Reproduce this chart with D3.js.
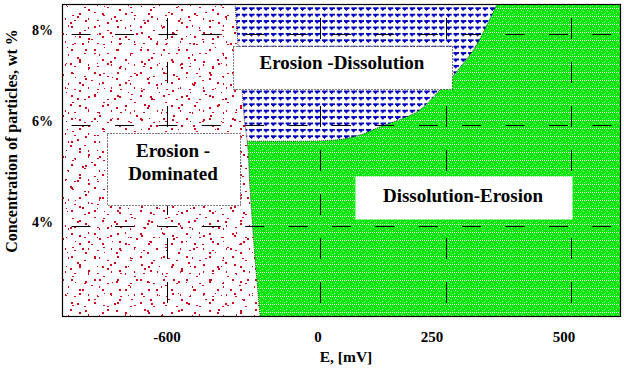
<!DOCTYPE html>
<html><head><meta charset="utf-8">
<script src="https://cdn.jsdelivr.net/npm/d3@7"></script>
<style>
body{margin:0;background:#fff}
svg{display:block}
text{font-family:"Liberation Serif","Times New Roman",serif;font-weight:bold;fill:#000}
</style>
</head><body>
<svg id="c" width="624" height="370"></svg>
<script>
// ---------- data ----------
const xTicks = [-600, 0, 250, 500];
const xTickLabels = ["-600", "0", "250", "500"];
const yTicks = [4, 6, 8];
const yTickLabels = ["4%", "6%", "8%"];
const xDomain = [-1010, -600, 0, 250, 500, 600];
const yDomain = [2.2, 4, 6, 8, 8.65];
// boundary of Erosion-Dominated zone (E, mV ; concentration, wt%)
const erosionBoundaryE = [-235, -259, -267, -275, -286, -294, -306, -322, -333];
const erosionBoundaryC = [2.2, 3.62, 4.18, 4.77, 5.70, 6.0, 6.77, 7.80, 8.65];
// lower boundary of Erosion-Dissolution zone
const dissolutionBoundaryE = [-1010, -286, -78, 26, 79, 123, 165, 198, 232, 254, 282, 310, 332, 352];
const dissolutionBoundaryC = [5.68, 5.68, 5.68, 5.70, 5.80, 5.98, 6.15, 6.33, 6.70, 6.95, 7.32, 7.74, 8.20, 8.65];
const regionLabels = ["Erosion -Dissolution", "Erosion -|Dominated", "Dissolution-Erosion"];
const xTitle = "E, [mV]";
const yTitle = "Concentration of particles, wt %";

// ---------- scales ----------
const L = 62, R = 620, T = 4, B = 316;
const x = d3.scaleLinear().domain(xDomain).range([L, 167, 320, 446, 571, R]);
const y = d3.scaleLinear().domain(yDomain).range([B, 226, 125, 34, T]);

const svg = d3.select("#c");
const defs = svg.append("defs");

// green pattern
const pg = defs.append("pattern").attr("id", "pg").attr("patternUnits", "userSpaceOnUse")
  .attr("width", 6).attr("height", 8);
pg.append("rect").attr("width", 6).attr("height", 8).attr("fill", "#0be60b");
[[0,0],[2,0],[4,0],[1,3],[4,5],[2,6],[5,2]].forEach((p,i) => {
  pg.append("rect").attr("x", p[0]).attr("y", p[1]).attr("width", 1).attr("height", 1)
    .attr("shape-rendering", "crispEdges")
    .attr("fill", i < 3 ? "#f0fff0" : "#8cfa8c");
});

// blue pattern
const pb = defs.append("pattern").attr("id", "pb").attr("patternUnits", "userSpaceOnUse")
  .attr("width", 7.3).attr("height", 6.4);
pb.append("rect").attr("width", 7.3).attr("height", 6.4).attr("fill", "#fff");
pb.append("path").attr("d", "M1,1h5v2h-1v1h-1v1h-1v-1h-1v-1h-1z").attr("fill", "#0000c0")
  .attr("shape-rendering", "crispEdges");

// red dot texture (three overlapping tiles of different sizes to look irregular)
const redTiles = [
  {id: "pr1", w: 23, h: 23, dots: [[2,3,2,2],[15,7,2,1],[10,13,2,2],[19,18,1,2],[5,20,2,1]]},
  {id: "pr2", w: 31, h: 29, dots: [[4,5,1,1],[17,3,2,2],[26,9,2,2],[10,15,2,1],[23,20,2,2],[6,25,1,2]]},
  {id: "pr3", w: 37, h: 41, dots: [[8,2,2,2],[30,6,1,1],[20,12,2,1],[3,16,2,2],[33,22,2,2],[14,27,1,2],[25,33,2,2],[1,36,1,1],[17,39,2,1]]}
];
redTiles.forEach(t => {
  const p = defs.append("pattern").attr("id", t.id).attr("patternUnits", "userSpaceOnUse")
    .attr("width", t.w).attr("height", t.h);
  t.dots.forEach(d => p.append("rect").attr("x", d[0]).attr("y", d[1]).attr("width", d[2]).attr("height", d[3])
    .attr("fill", "#d0061f").attr("shape-rendering", "crispEdges"));
});

// ---------- regions ----------
svg.append("rect").attr("x", x(xDomain[0])).attr("y", y(yDomain[4]))
  .attr("width", x(xDomain[5]) - x(xDomain[0])).attr("height", y(yDomain[0]) - y(yDomain[4]))
  .attr("fill", "url(#pg)");

const dis = dissolutionBoundaryE.map((e, i) => ({e, c: dissolutionBoundaryC[i]}));
const ero = erosionBoundaryE.map((e, i) => ({e, c: erosionBoundaryC[i]}));

const blueArea = d3.area().x(d => x(d.e)).y0(y(yDomain[4])).y1(d => y(d.c)).curve(d3.curveMonotoneX);
svg.append("path").attr("d", blueArea(dis)).attr("fill", "url(#pb)");
const blueLine = d3.line().x(d => x(d.e)).y(d => y(d.c)).curve(d3.curveMonotoneX);
svg.append("path").attr("d", blueLine(dis.slice(1))).attr("fill", "none")
  .attr("stroke", "#222").attr("stroke-width", 0.8).attr("stroke-dasharray", "1,1");

const redArea = d3.area().y(d => y(d.c)).x0(x(xDomain[0])).x1(d => x(d.e)).curve(d3.curveMonotoneY);
svg.append("path").attr("d", redArea(ero)).attr("fill", "#fff");
redTiles.forEach(t => svg.append("path").attr("d", redArea(ero)).attr("fill", `url(#${t.id})`));
const redLine = d3.line().y(d => y(d.c)).x(d => x(d.e)).curve(d3.curveMonotoneY);
svg.append("path").attr("d", redLine(ero)).attr("fill", "none")
  .attr("stroke", "#222").attr("stroke-width", 0.8).attr("stroke-dasharray", "1,1");

// ---------- grid ----------
svg.append("g").selectAll("line").data(yTicks).join("line")
  .attr("x1", L).attr("x2", R).attr("y1", d => Math.round(y(d)) + 0.5).attr("y2", d => Math.round(y(d)) + 0.5)
  .attr("stroke", "#000").attr("stroke-width", 1)
  .attr("stroke-dasharray", "19,24.4").attr("stroke-dashoffset", 33.8);
svg.append("g").selectAll("line").data(xTicks).join("line")
  .attr("x1", d => Math.round(x(d)) + 0.5).attr("x2", d => Math.round(x(d)) + 0.5).attr("y1", T).attr("y2", B)
  .attr("stroke", "#000").attr("stroke-width", 1)
  .attr("stroke-dasharray", "21,23").attr("stroke-dashoffset", 30);

// ---------- labels boxes ----------
function box(x0, y0, x1, y1, dotted) {
  svg.append("rect").attr("x", x0 + 0.5).attr("y", y0 + 0.5).attr("width", x1 - x0).attr("height", y1 - y0)
    .attr("fill", "#fff").attr("stroke", dotted ? "#000" : "none").attr("stroke-width", 1)
    .attr("stroke-dasharray", "1,2");
}
box(233, 46, 452, 89, true);
svg.append("text").attr("x", 342).attr("y", 69).attr("text-anchor", "middle")
  .attr("font-size", 19).text(regionLabels[0]);
box(107, 133, 240, 205, true);
regionLabels[1].split("|").forEach((t, i) => {
  svg.append("text").attr("x", 173).attr("y", 157 + i * 23).attr("text-anchor", "middle")
    .attr("font-size", 19).text(t);
});
box(355, 176, 572, 219, false);
svg.append("text").attr("x", 463).attr("y", 202).attr("text-anchor", "middle")
  .attr("font-size", 19).text(regionLabels[2]);

// ---------- frame ----------
svg.append("rect").attr("x", L + 0.5).attr("y", T + 0.5).attr("width", R - L).attr("height", B - T)
  .attr("fill", "none").attr("stroke", "#000").attr("stroke-width", 1.2);

// ---------- axes labels ----------
const labelShift = [0, -2, -14, -7];
svg.append("g").selectAll("text").data(xTicks).join("text")
  .attr("x", (d, i) => x(d) + labelShift[i]).attr("y", 342).attr("text-anchor", "middle").attr("font-size", 15)
  .text((d, i) => xTickLabels[i]);
svg.append("g").selectAll("text").data(yTicks).join("text")
  .attr("x", 53).attr("y", d => y(d) + 1).attr("text-anchor", "end").attr("font-size", 14)
  .text((d, i) => yTickLabels[i]);
svg.append("text").attr("x", 346).attr("y", 362).attr("text-anchor", "middle").attr("font-size", 15.5).text(xTitle);
svg.append("text").attr("transform", "translate(17,141) rotate(-90)").attr("text-anchor", "middle")
  .attr("font-size", 16).text(yTitle);
</script>
</body></html>
